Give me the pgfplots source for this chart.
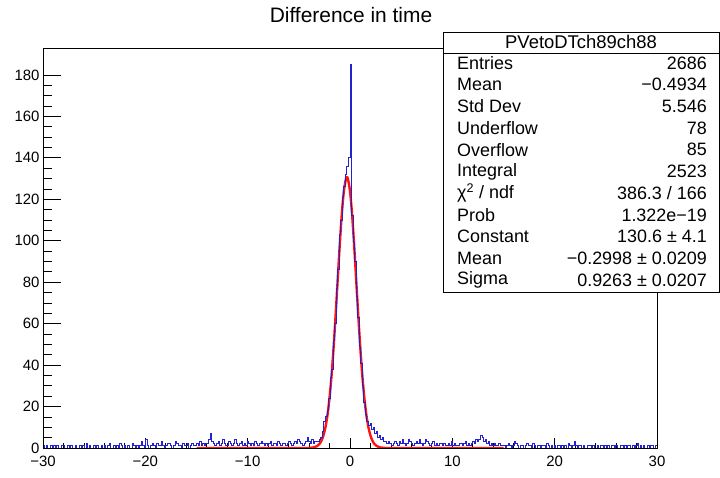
\documentclass[border=0pt]{standalone}
\usepackage{pgfplots}
\pgfplotsset{compat=1.18}
\usepackage{fontspec}
\setmainfont{Liberation Sans}
\definecolor{hblue}{RGB}{35,35,205}
\definecolor{fred}{RGB}{255,20,20}
\begin{document}
\begin{tikzpicture}[x=1bp,y=1bp]
\begin{axis}[
  at={(0,0)}, anchor=south west, scale only axis,
  width=614bp, height=400bp,
  xmin=-30, xmax=30, ymin=0, ymax=193,
  xtick={-30,-20,...,30}, xticklabels={−30,−20,−10,0,10,20,30},
  minor x tick num=4, ytick=\empty,
  xtick pos=bottom, tick align=inside,
  major tick length=10bp, minor tick length=5bp,
  xticklabel style={font=\fontsize{15}{18}\selectfont, yshift=-5bp},
  axis line style={black, line width=0.9bp},
  tick style={black, line width=0.8bp},
  clip=true,
]
\addplot[fred, line width=2.4bp, smooth] coordinates {
(-15,0) (-5,0) (-4.0,0.05) (-3.6,0.23) (-3.2,0.97) (-3.0,1.87) (-2.8,3.42) (-2.6,5.99)
(-2.4,10.0) (-2.2,15.9) (-2.0,24.2) (-1.8,35.2) (-1.6,48.8) (-1.4,64.5) (-1.2,81.5)
(-1.0,98.2) (-0.8,112.9) (-0.6,123.9) (-0.4,129.8) (-0.3,130.6) (-0.2,129.8)
(0.0,123.9) (0.2,112.9) (0.4,98.2) (0.6,81.5) (0.8,64.5) (1.0,48.8) (1.2,35.2)
(1.4,24.2) (1.6,15.9) (1.8,10.0) (2.0,5.99) (2.2,3.42) (2.4,1.87) (2.6,0.97)
(3.0,0.23) (3.4,0.05) (4.4,0) (15,0)
};
\addplot[hblue, line width=0.9bp, const plot] table[row sep=\\, x expr=\coordindex*0.15-30, y=y] {
y\\
1\\0\\1\\0\\0\\1\\0\\1\\0\\1\\0\\0\\1\\1\\0\\0\\1\\0\\1\\0\\
0\\1\\0\\0\\1\\0\\1\\0\\2\\0\\1\\0\\0\\1\\0\\1\\0\\0\\1\\0\\
1\\0\\1\\2\\0\\0\\1\\0\\1\\0\\2\\1\\0\\1\\0\\1\\0\\0\\2\\1\\
0\\1\\0\\1\\3\\1\\0\\
4\\1\\0\\1\\2\\1\\0\\2\\1\\1\\3\\1\\0\\1\\2\\2\\1\\0\\1\\3\\2\\1\\1\\0\\2\\1\\1\\2\\0\\1\\2\\1\\1\\
2\\1\\3\\1\\2\\1\\2\\2\\4\\7\\3\\2\\1\\2\\3\\1\\2\\4\\2\\1\\
1\\3\\2\\1\\2\\4\\2\\1\\2\\3\\1\\2\\1\\3\\2\\1\\2\\1\\3\\2\\
1\\2\\3\\2\\1\\2\\1\\2\\3\\1\\2\\2\\1\\3\\2\\1\\2\\2\\1\\2\\
3\\2\\1\\2\\3\\2\\4\\3\\2\\1\\2\\3\\5\\3\\2\\4\\2\\3\\3\\3\\
4\\5\\8\\13\\15\\18\\24\\34\\38\\52\\60\\77\\86\\103\\110\\121\\126\\132\\136\\140\\
185\\112\\99\\90\\73\\63\\49\\41\\30\\22\\16\\13\\11\\12\\9\\10\\7\\8\\
5\\6\\4\\5\\3\\
3\\2\\3\\2\\1\\2\\3\\2\\1\\3\\2\\4\\2\\1\\2\\4\\3\\2\\1\\2\\
3\\2\\4\\2\\1\\2\\4\\3\\2\\1\\2\\3\\1\\2\\1\\2\\2\\1\\2\\1\\
1\\2\\1\\3\\1\\2\\1\\1\\2\\2\\1\\2\\3\\1\\2\\1\\2\\3\\2\\4\\
3\\4\\6\\5\\3\\4\\2\\3\\1\\2\\1\\2\\1\\1\\2\\1\\1\\
1\\0\\1\\2\\1\\0\\1\\3\\2\\1\\0\\1\\1\\0\\1\\2\\1\\1\\0\\2\\
1\\0\\1\\1\\0\\1\\1\\0\\2\\1\\0\\1\\0\\1\\0\\1\\1\\0\\1\\0\\
1\\0\\2\\1\\0\\1\\3\\1\\0\\1\\1\\0\\1\\0\\0\\1\\1\\0\\1\\0\\
0\\1\\0\\1\\1\\0\\1\\0\\1\\0\\1\\1\\0\\1\\0\\0\\1\\1\\0\\1\\
0\\1\\1\\0\\1\\0\\1\\2\\0\\1\\0\\1\\0\\0\\1\\0\\1\\1\\0\\1\\
1\\
};
\end{axis}
\begin{axis}[
  at={(0,0)}, anchor=south west, scale only axis,
  width=614bp, height=400bp,
  xmin=-30, xmax=30, ymin=0, ymax=193,
  xtick=\empty, ytick={0,20,...,180}, minor y tick num=3,
  ytick pos=left, tick align=inside,
  major tick length=18bp, minor tick length=9bp,
  yticklabel style={font=\fontsize{15}{18}\selectfont},
  /pgf/number format/assume math mode=true,
  axis line style={black, line width=0.9bp},
  tick style={black, line width=0.8bp},
]
\end{axis}
\node[font=\fontsize{21}{25}\selectfont] at (308,433) {Difference in time};
\draw[black, line width=0.9bp, fill=white] (400,156) rectangle (676,416);
\draw[black, line width=0.9bp] (400,395) -- (676,395);
\node[font=\fontsize{18.5}{22}\selectfont] at (538,406) {PVetoDTch89ch88};
\begin{scope}[every node/.style={font=\fontsize{18}{22}\selectfont, inner sep=0pt}]
\node[anchor=west] at (414,385) {Entries};   \node[anchor=east] at (664,385) {2686};
\node[anchor=west] at (414,363.3) {Mean};    \node[anchor=east] at (664,363.3) {−0.4934};
\node[anchor=west] at (414,341.6) {Std Dev}; \node[anchor=east] at (664,341.6) {5.546};
\node[anchor=west] at (414,319.9) {Underflow}; \node[anchor=east] at (664,319.9) {78};
\node[anchor=west] at (414,298.2) {Overflow}; \node[anchor=east] at (664,298.2) {85};
\node[anchor=west] at (414,276.5) {Integral}; \node[anchor=east] at (664,276.5) {2523};
\node[anchor=west] at (414,254.8) {χ\textsuperscript{2} / ndf}; \node[anchor=east] at (664,254.8) {386.3 / 166};
\node[anchor=west] at (414,233.1) {Prob}; \node[anchor=east] at (664,233.1) {1.322e−19};
\node[anchor=west] at (414,211.4) {Constant}; \node[anchor=east] at (664,211.4) {130.6 ± 4.1};
\node[anchor=west] at (414,189.7) {Mean}; \node[anchor=east] at (664,189.7) {−0.2998 ± 0.0209};
\node[anchor=west] at (414,168) {Sigma}; \node[anchor=east] at (664,168) {0.9263 ± 0.0207};
\end{scope}
\pgfresetboundingbox
\path[use as bounding box] (-43,-30) rectangle (677,448);
\end{tikzpicture}
\end{document}
